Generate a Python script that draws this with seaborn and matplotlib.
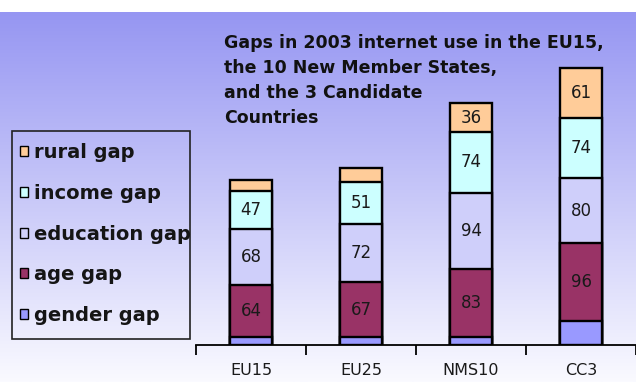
import numpy as np
import pandas as pd
import matplotlib
matplotlib.use("Agg")
import matplotlib.pyplot as plt
import seaborn as sns
from matplotlib.patches import Patch, Rectangle

# ---- data ----
regions = ["EU15", "EU25", "NMS10", "CC3"]
gender_gap = [10, 10, 10, 29]
age_gap = [64, 67, 83, 96]
education_gap = [68, 72, 94, 80]
income_gap = [47, 51, 74, 74]
rural_gap = [14, 17, 36, 61]
series_names = ["gender gap", "age gap", "education gap", "income gap", "rural gap"]
shown_labels = [
    [False, False, False, False],
    [True, True, True, True],
    [True, True, True, True],
    [True, True, True, True],
    [False, False, True, True],
]
title_lines = ["Gaps in 2003 internet use in the EU15,",
               "the 10 New Member States,",
               "and the 3 Candidate",
               "Countries"]

colors = ["#9999FF", "#993366", "#CFCFFA", "#CCFFFF", "#FFCC99"]

sns.set_style("white")
plt.rcParams["font.family"] = ["DejaVu Sans"]

W, H = 636, 382
fig = plt.figure(figsize=(W / 100, H / 100), dpi=100)
fig.patch.set_facecolor("white")

# background gradient
bg = fig.add_axes([0, 0, 1, 1 - 12 / H])
bg.set_axis_off()
t = np.linspace(0, 1, 256)[:, None, None]
c_top = np.array([150, 150, 242]) / 255
c_bot = np.array([250, 250, 255]) / 255
img = c_top + (c_bot - c_top) * t
bg.imshow(img, aspect="auto", extent=[0, 1, 0, 1])
bg.set_zorder(-10)

ax = fig.add_axes([196 / W, 37 / H, 440 / W, 333 / H])
ax.patch.set_alpha(0)

values = np.array([gender_gap, age_gap, education_gap, income_gap, rural_gap])
cum = np.cumsum(values, axis=0)

for k in reversed(range(len(series_names))):
    d = pd.DataFrame({"region": regions, "top": cum[k]})
    sns.barplot(data=d, x="region", y="top", color=colors[k], saturation=1,
                width=0.39, edgecolor="black", linewidth=1.7, errorbar=None, ax=ax)

for k in range(len(series_names)):
    for i in range(len(regions)):
        if shown_labels[k][i]:
            ax.text(i, cum[k][i] - values[k][i] / 2, str(values[k][i]),
                    ha="center", va="center", fontsize=12, color="#1a1a1a")

ax.set_xlim(-0.5, -0.5 + 440 / 111)
ax.set_ylim(0, 333 / 0.815)
ax.set_xlabel("")
ax.set_ylabel("")
for s in ["left", "top", "right"]:
    ax.spines[s].set_visible(False)
ax.spines["bottom"].set_color("black")
ax.spines["bottom"].set_linewidth(1.3)
ax.set_yticks([])
ax.set_xticks([-0.5, 0.5, 1.5, 2.5, 3.5], labels=[""] * 5)
ax.set_xticks(range(len(regions)), labels=regions, minor=True)
ax.tick_params(axis="x", which="major", bottom=True, length=7, width=1.3,
               color="black", direction="out")
ax.tick_params(axis="x", which="minor", bottom=True, length=0, pad=13,
               labelsize=11.5, labelcolor="#1a1a1a")

# legend
handles = [Patch(facecolor=colors[k], edgecolor="black", linewidth=1.0)
           for k in reversed(range(len(series_names)))]
labels = list(reversed(series_names))
fig.legend(handles=handles, labels=labels, loc="upper left",
           bbox_to_anchor=(20 / W, 1 - 143 / H), frameon=False,
           prop={"weight": "bold", "size": 14}, handlelength=0.42,
           handleheight=0.42, handletextpad=0.3, labelspacing=1.12,
           borderpad=0, borderaxespad=0, labelcolor="#151515")
fig.add_artist(Rectangle((12 / W, 43 / H), 178 / W, 208 / H,
                         transform=fig.transFigure, fill=False,
                         edgecolor="#222222", linewidth=1.2))

baselines = [48, 73, 98, 123]
for line, yb in zip(title_lines, baselines):
    fig.text(224 / W, 1 - yb / H, line, ha="left", va="baseline",
             fontsize=12.5, fontweight="bold", color="#111111")

fig.savefig("out.png", dpi=100)
